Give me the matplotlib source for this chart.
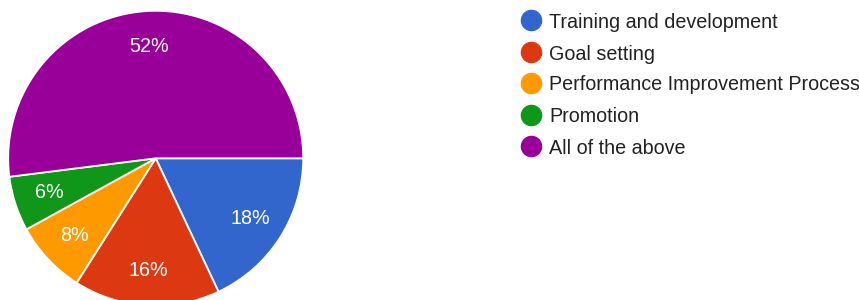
import matplotlib
matplotlib.use("Agg")
import matplotlib.pyplot as plt

categories = ["Training and development", "Goal setting",
              "Performance Improvement Process", "Promotion", "All of the above"]
values = [18, 16, 8, 6, 52]
colors = ["#3366cc", "#dc3912", "#ff9900", "#109618", "#990099"]

plt.rcParams['font.family'] = ['Liberation Sans', 'DejaVu Sans']

W, H = 859, 300
fig = plt.figure(figsize=(W / 100, H / 100), dpi=100)

cx, cy, r = 155.7, 300 - 158.3, 147.5
ax = fig.add_axes([(cx - r) / W, (cy - r) / H, 2 * r / W, 2 * r / H])
wedges, texts, autotexts = ax.pie(
    values, colors=colors, startangle=0, counterclock=False,
    autopct=lambda p: f"{p:.0f}%", pctdistance=0.76,
    wedgeprops=dict(edgecolor="white", linewidth=1.3),
    textprops=dict(color="white", fontsize=14.2))
ax.set_xlim(-1, 1)
ax.set_ylim(-1, 1)
ax.set_aspect('equal')
ax.axis('off')

# legend
lx_c, lx_t = 530.7, 549
ys = [20, 52, 83, 115, 146]
for lab, col, y in zip(categories, colors, ys):
    fig.add_artist(plt.Line2D([lx_c / W], [1 - y / H], marker='o', markersize=14.5,
                              color=col, linestyle='none', transform=fig.transFigure))
    fig.text(lx_t / W, 1 - y / H, lab, fontsize=14.2, color="#222222",
             va='center_baseline', ha='left')

fig.savefig("out.png", dpi=100)
